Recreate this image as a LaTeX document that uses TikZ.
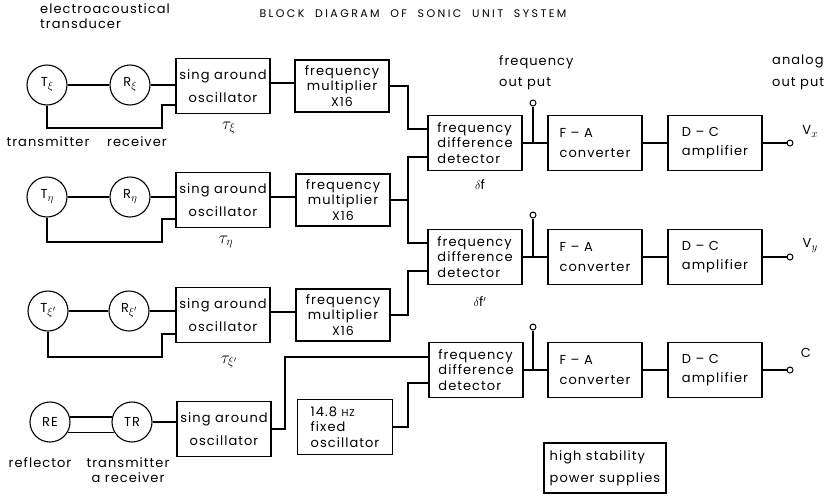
\documentclass[tikz,border=0pt]{standalone}
\usepackage{fontspec}
\setmainfont{Poppins}[LetterSpace=8]
\newfontfamily\titlefont{Poppins}[LetterSpace=22]
\usetikzlibrary{positioning, calc}
\newcommand{\sub}[1]{\raisebox{-3pt}{\fontsize{11}{11}\selectfont$#1$}}
\newcommand{\tinytext}[1]{{\fontsize{10}{12}\selectfont#1}}
\newcommand{\timestext}[1]{{\fontsize{12.5}{14}\selectfont#1}}

\begin{document}
\begin{tikzpicture}[
    x=1pt, y=-1pt,
    every node/.style={font=\fontsize{13}{15.5}\selectfont},
    block/.style={
        draw=black,
        line width=1.1pt,
        minimum width=94pt,
        minimum height=55pt,
        inner sep=0pt,
        align=center,
    },
    xducer/.style={
        draw=black,
        line width=1.1pt,
        circle,
        minimum size=40pt,
        inner sep=0pt,
    },
    term/.style={
        draw=black,
        line width=1pt,
        circle,
        minimum size=6pt,
        inner sep=0pt,
    },
    wire/.style={line width=1.1pt},
    lbl/.style={inner sep=0pt},
    taulbl/.style={inner sep=0pt, font=\fontsize{17}{17}\selectfont},
]

\useasboundingbox (0,0) rectangle (835,496);

% -- Bus x-coordinates
\coordinate (bus) at (408,0);
\coordinate (riser) at (285,0);

% -- Headings
\node[lbl, anchor=north west, align=left] (xdhead) at (40,3) {electroacoustical\\transducer};
\node[lbl, font=\titlefont\fontsize{11}{12}\selectfont] (title) at (413,14) {BLOCK\ \ DIAGRAM\ \ OF\ \ SONIC\ \ UNIT\ \ SYSTEM};

% -- Row xi
\node[xducer] (t1) at (47,85) {T\sub{\xi}};
\node[xducer] (r1) at (130,85) {R\sub{\xi}};
\node[block] (sing1) at (223,86) {sing around\\[8pt]oscillator};
\node[block, minimum height=52pt] (mult1) at (342,86) {frequency\\multiplier\\\timestext{X16}};
\node[block, align=left] (det1) at (475,143) {frequency\\difference\\detector};
\node[block, align=left] (fa1) at (595,143) {F -- A\\[4pt]converter};
\node[block, align=left] (dc1) at (715,143) {D -- C\\[4pt]amplifier};
\node[term] (tap1) at (533,103) {};
\node[term] (out1) at (790,143) {};

% -- Row eta
\node[xducer] (t2) at (47,197) {T\sub{\eta}};
\node[xducer] (r2) at (130,197) {R\sub{\eta}};
\node[block] (sing2) at (223,200) {sing around\\[8pt]oscillator};
\node[block, minimum height=52pt] (mult2) at (343,200) {frequency\\multiplier\\\timestext{X16}};
\node[block, align=left] (det2) at (475,257) {frequency\\difference\\detector};
\node[block, align=left] (fa2) at (595,257) {F -- A\\[4pt]converter};
\node[block, align=left] (dc2) at (715,257) {D -- C\\[4pt]amplifier};
\node[term] (tap2) at (533,215) {};
\node[term] (out2) at (790,257) {};

% -- Row xi prime
\node[xducer] (t3) at (48,311) {T\sub{\xi'}};
\node[xducer] (r3) at (129,311) {R\sub{\xi'}};
\node[block] (sing3) at (223,315) {sing around\\[8pt]oscillator};
\node[block, minimum height=52pt] (mult3) at (343,315) {frequency\\multiplier\\\timestext{X16}};
\node[block, align=left] (det3) at (476,370) {frequency\\difference\\detector};
\node[block, align=left] (fa3) at (595,370) {F -- A\\[4pt]converter};
\node[block, align=left] (dc3) at (715,370) {D -- C\\[4pt]amplifier};
\node[term] (tap3) at (533,327) {};
\node[term] (out3) at (790,370) {};

% -- Reflector row
\node[xducer] (re) at (50,422) {RE};
\node[xducer] (tr) at (132,422) {TR};
\node[block] (sing4) at (224,429) {sing around\\[8pt]oscillator};
\node[block, align=left, minimum width=95pt] (fixed) at (345,427) {14.8 \tinytext{HZ}\\fixed\\oscillator};
\node[block, align=left, minimum width=122pt, minimum height=50pt] (power) at (605,468) {high stability\\[6pt]power supplies};

% -- Detector inputs
\coordinate (d1a) at ([yshift=14pt]det1.west);
\coordinate (d1b) at ([yshift=-14pt]det1.west);
\coordinate (d2a) at ([yshift=14pt]det2.west);
\coordinate (d2b) at ([yshift=-14pt]det2.west);
\coordinate (d3a) at ([yshift=13pt]det3.west);
\coordinate (d3b) at ([yshift=-13pt]det3.west);

% -- Feedback corners
\coordinate (fb1) at (162,128);
\coordinate (fb2) at (162,242);
\coordinate (fb3) at (162,357);

% ===== Wires =====

% transducer loops
\draw[wire] (t1) -- (r1);
\draw[wire] (r1.east) -- (r1.east -| sing1.west);
\draw[wire] (t1.south) |- (fb1) |- ([yshift=-19pt]sing1.west);
\draw[wire] (t2) -- (r2);
\draw[wire] (r2.east) -- (r2.east -| sing2.west);
\draw[wire] (t2.south) |- (fb2) |- ([yshift=-19pt]sing2.west);
\draw[wire] (t3) -- (r3);
\draw[wire] (r3.east) -- (r3.east -| sing3.west);
\draw[wire] (t3.south) |- (fb3) |- ([yshift=-19pt]sing3.west);

% oscillators -> multipliers
\draw[wire] ([yshift=3pt]sing1.east) -- ([yshift=3pt]mult1.west);
\draw[wire] ([yshift=3pt]sing2.east) -- ([yshift=3pt]mult2.west);
\draw[wire] ([yshift=3pt]sing3.east) -- ([yshift=3pt]mult3.west);

% multipliers -> detectors
\draw[wire] (mult1.east) -| (bus |- d1a) -- (d1a);
\draw[wire] (mult2.east) -- (bus |- mult2.east);
\draw[wire] (d1b) -| (bus |- d2a) -- (d2a);
\draw[wire] (mult3.east) -| (bus |- d2b) -- (d2b);

% reflector pair
\draw[wire] (re.14) -- (tr.166);
\draw[wire] (re.-30) -- (tr.-150);
\draw[wire] (tr.east) -- (tr.east -| sing4.west);
\draw[wire] (sing4.east) -| (riser |- d3a) -- (d3a);
\draw[wire] (fixed.east) -| (bus |- d3b) -- (d3b);

% detectors -> converters -> amplifiers -> outputs
\draw[wire] (det1) -- (fa1);
\draw[wire] (fa1) -- (dc1);
\draw[wire] (dc1) -- (out1);
\draw[wire] (tap1.south) -- (tap1 |- det1.east);
\draw[wire] (det2) -- (fa2);
\draw[wire] (fa2) -- (dc2);
\draw[wire] (dc2) -- (out2);
\draw[wire] (tap2.south) -- (tap2 |- det2.east);
\draw[wire] (det3) -- (fa3);
\draw[wire] (fa3) -- (dc3);
\draw[wire] (dc3) -- (out3);
\draw[wire] (tap3.south) -- (tap3 |- det3.east);

% ===== Labels =====
\node[lbl] (txlbl) at (48,142) {transmitter};
\node[lbl] (rxlbl) at (137,142) {receiver};
\node[taulbl] (tau1) at (229,128) {$\tau_{\xi}$};
\node[taulbl] (tau2) at (226,242) {$\tau_{\eta}$};
\node[taulbl] (tau3) at (229,362) {$\tau_{\xi'}$};
\node[lbl] (df1) at (480,185) {$\delta$f};
\node[lbl] (df2) at (480,302) {$\delta$f$'$};
\node[lbl, anchor=north west, align=left] (fqout) at (499,55) {frequency\\[6pt]out put};
\node[lbl, anchor=north west, align=left] (anout) at (772,55) {analog\\[6pt]out put};
\node[lbl] (vx) at (810,131) {V\sub{x}};
\node[lbl] (vy) at (810,246) {V\sub{y}};
\node[lbl] (cout) at (806,353) {C};
\node[lbl] (refl) at (40,463) {reflector};
\node[lbl, align=center] (trlbl) at (128,470) {transmitter\\a receiver};

\end{tikzpicture}
\end{document}
